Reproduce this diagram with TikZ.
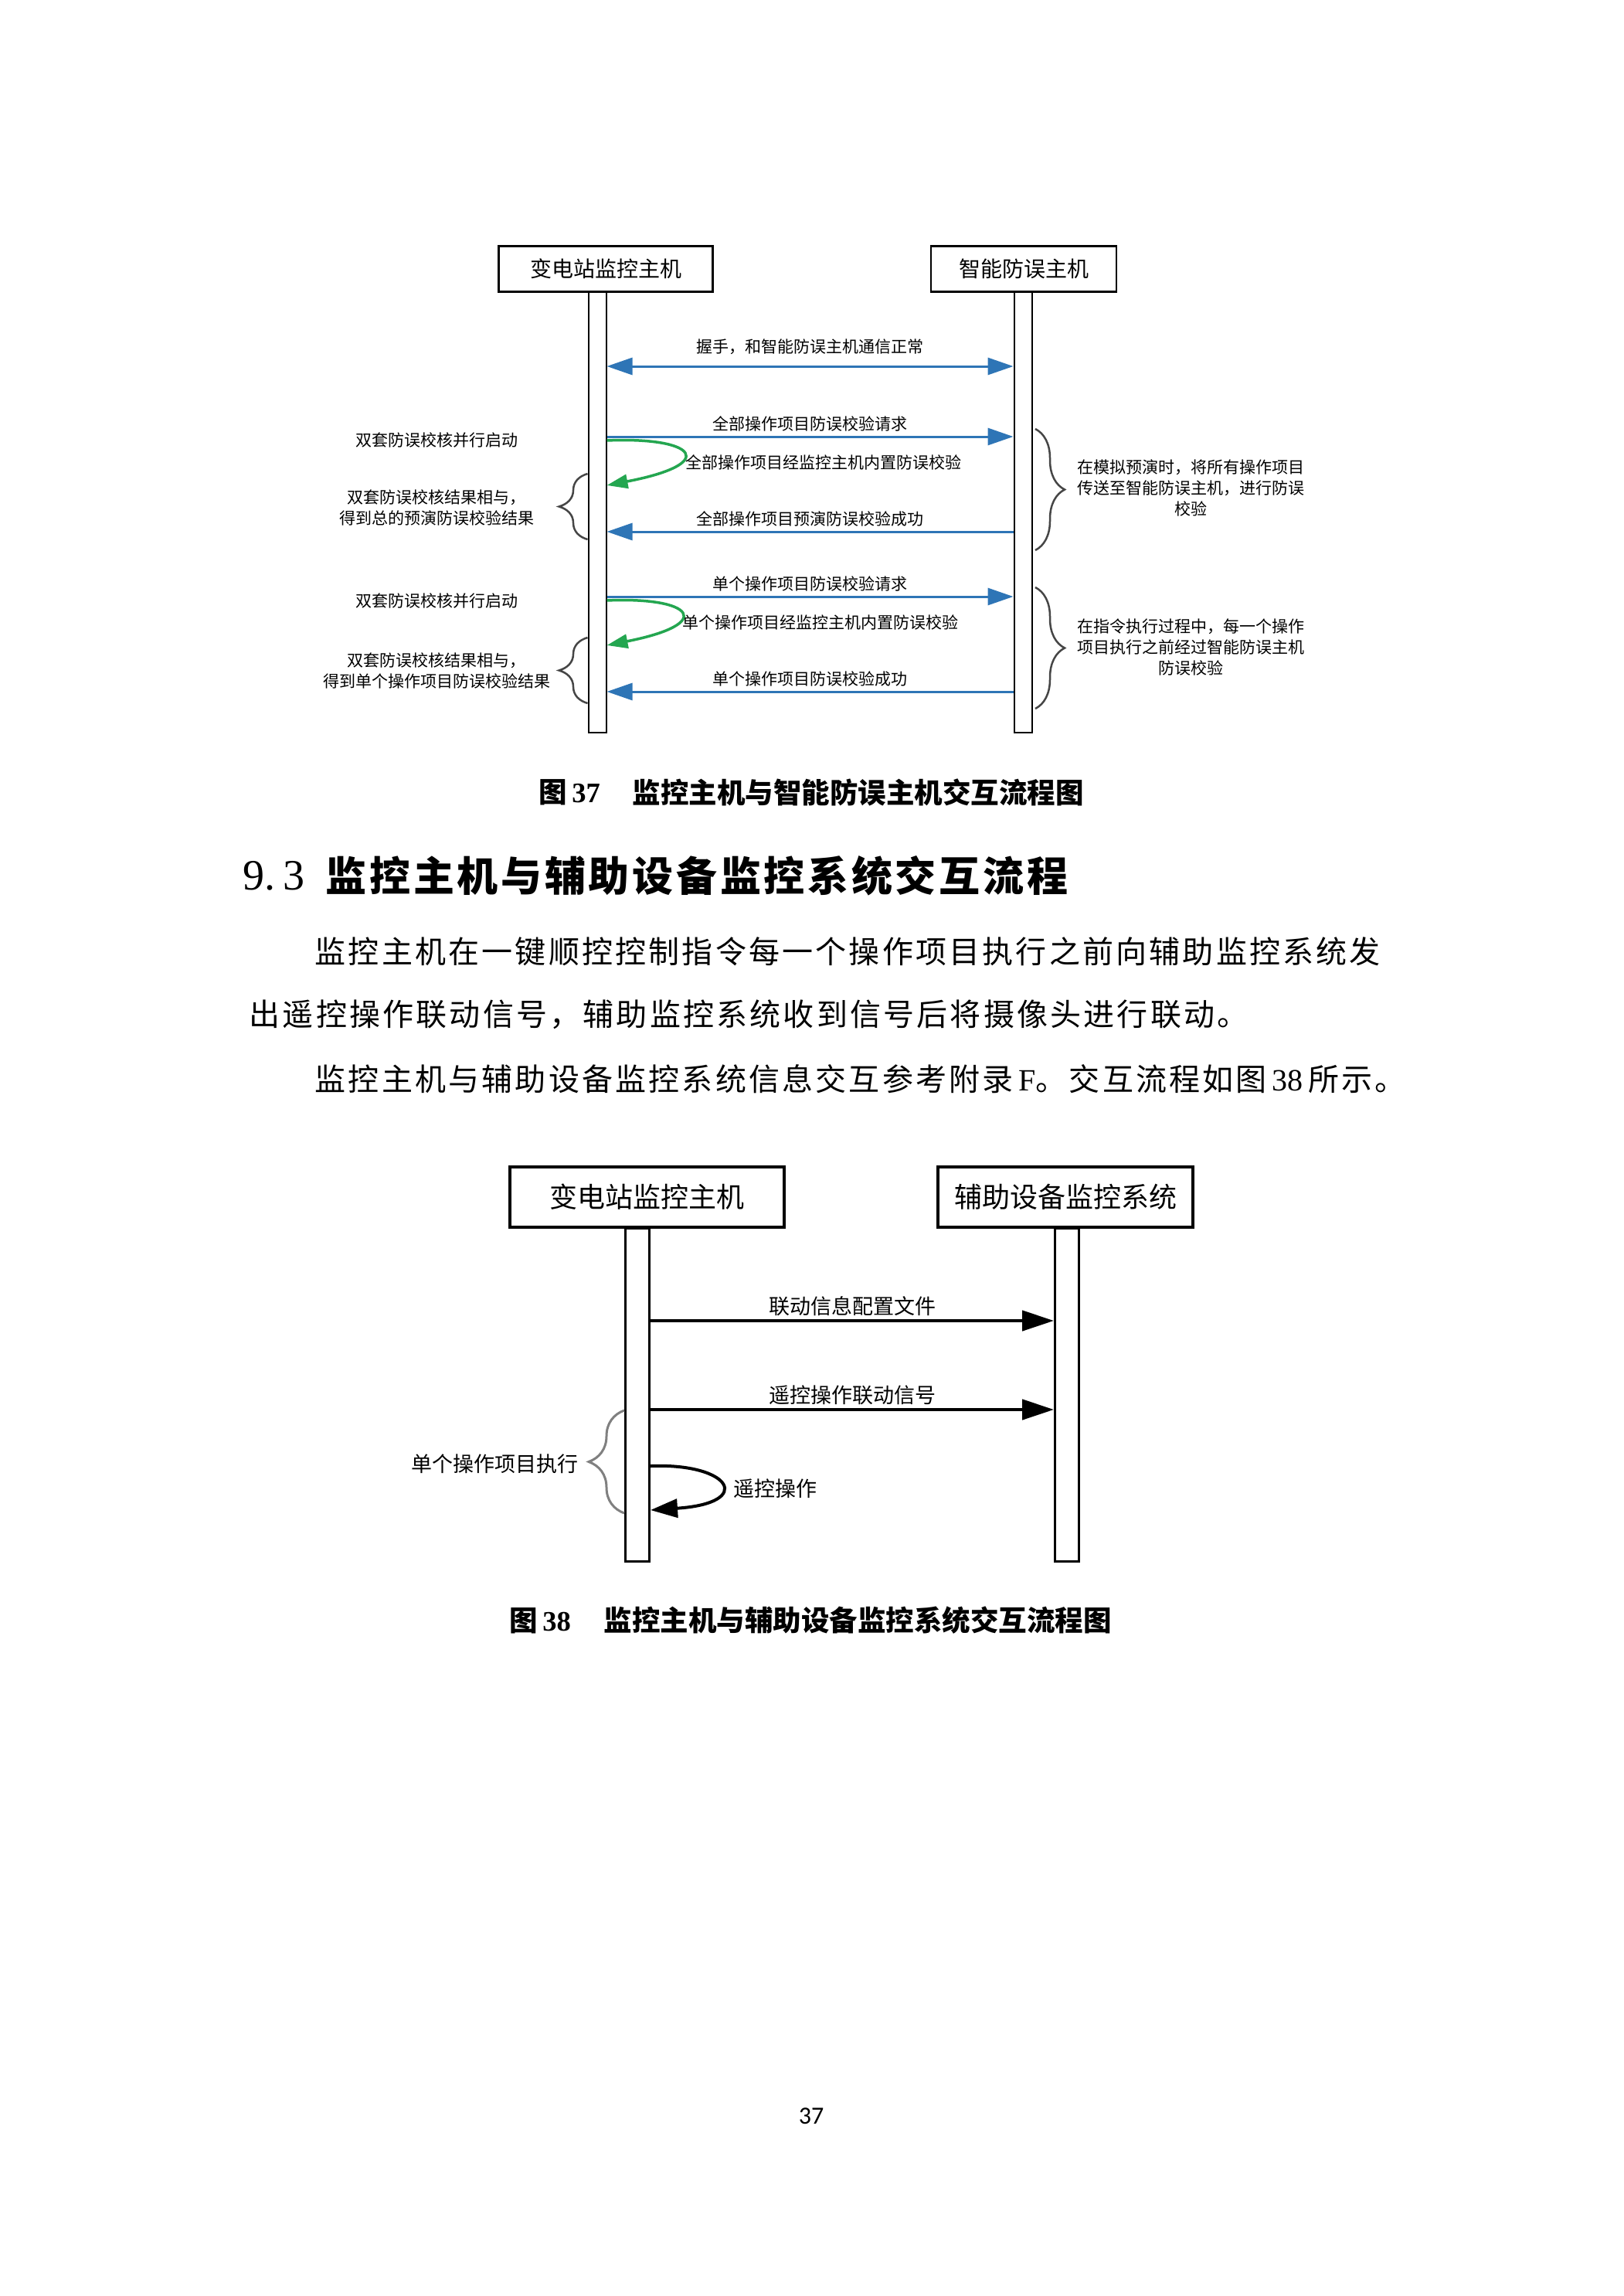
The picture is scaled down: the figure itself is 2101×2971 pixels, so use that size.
\documentclass[tikz,border=0pt]{standalone}
\usepackage{fontspec}
\setmainfont{Liberation Serif}
\newfontfamily\cjk{Noto Sans CJK SC}
\newfontfamily\capfont{Noto Sans CJK SC}
\newfontfamily\headfont[LetterSpace=7]{Noto Sans CJK SC}
\newfontfamily\bodyfont[LetterSpace=8]{Noto Sans CJK SC}
\newfontfamily\pagefont{Carlito}
\usetikzlibrary{arrows.meta,positioning,decorations.pathreplacing,calc}
\definecolor{Link}{RGB}{46,117,182}
\definecolor{Check}{RGB}{36,166,80}
\definecolor{Brace}{RGB}{70,70,70}

\begin{document}
\begin{tikzpicture}[x=0.1mm,y=-0.1mm,
  hostbox/.style={draw,line width=0.25mm,fill=white,inner sep=0,minimum height=5.9mm,font=\cjk\fontsize{2.8mm}{3mm}\selectfont},
  lifebar/.style={draw,line width=0.2mm,fill=white,inner sep=0,anchor=north,minimum width=2.3mm},
  callmsg/.style={Link,line width=0.3mm,-{Triangle[length=3.3mm,width=2.2mm]}},
  selfcheck/.style={Check,line width=0.35mm,-{Triangle[length=2.7mm,width=1.8mm]}},
  msglabel/.style={inner sep=0,text=black,font=\cjk\fontsize{2.1mm}{2.7mm}\selectfont},
  sidenote/.style={msglabel,align=center},
  sidebrace/.style={Brace,line width=0.25mm,decorate,decoration={brace,amplitude=3.7mm}},
  hostbox2/.style={draw,line width=0.4mm,fill=white,inner sep=0,minimum height=7.8mm,font=\cjk\fontsize{3.6mm}{4mm}\selectfont},
  lifebar2/.style={draw,line width=0.3mm,fill=white,inner sep=0,anchor=north,minimum width=3.1mm},
  callmsg2/.style={black,line width=0.45mm,-{Triangle[length=4.1mm,width=2.6mm]}},
  msglabel2/.style={inner sep=0,font=\cjk\fontsize{2.7mm}{3.2mm}\selectfont},
  captext/.style={inner sep=0,anchor=west,font=\capfont\bfseries\fontsize{3.65mm}{4mm}\selectfont},
  bodyline/.style={inner sep=0,anchor=west,font=\bodyfont\fontsize{4.0mm}{4.4mm}\selectfont}]
\fill[white] (0,0) rectangle (2101,2971);
\useasboundingbox (0,0) rectangle (2101,2971);

% figure 37
\node[hostbox,minimum width=27.7mm] (scada) at (784,348) {变电站监控主机};
\node[hostbox,minimum width=24mm] (wfhost) at (1325,348) {智能防误主机};
\node[lifebar,minimum height=57mm] (scadabar) at (773,377) {};
\node[lifebar,minimum height=57mm] (wfbar) at (1324,377) {};

\coordinate (m1l) at (scadabar.east |- 0,474);
\coordinate (m1r) at (wfbar.west |- 0,474);
\coordinate (m2l) at (scadabar.east |- 0,565);
\coordinate (m2r) at (wfbar.west |- 0,565);
\coordinate (c1s) at (scadabar.east |- 0,570);
\coordinate (c1e) at (scadabar.east |- 0,628);
\coordinate (m3l) at (scadabar.east |- 0,688);
\coordinate (m3r) at (wfbar.west |- 0,688);
\coordinate (m4l) at (scadabar.east |- 0,772);
\coordinate (m4r) at (wfbar.west |- 0,772);
\coordinate (c2s) at (scadabar.east |- 0,777);
\coordinate (c2e) at (scadabar.east |- 0,835);
\coordinate (m5l) at (scadabar.east |- 0,895);
\coordinate (m5r) at (wfbar.west |- 0,895);

\draw[callmsg,{Triangle[length=3.3mm,width=2.2mm]}-{Triangle[length=3.3mm,width=2.2mm]}] (m1l) -- node[msglabel,above=1.4mm] {握手，和智能防误主机通信正常} (m1r);
\draw[callmsg] (m2l) -- node[msglabel,above=0.5mm] {全部操作项目防误校验请求} (m2r);
\draw[selfcheck] (c1s) .. controls +(116,-5) and +(146,-28) .. (c1e);
\node[msglabel,anchor=west] (c1txt) at (887,598) {全部操作项目经监控主机内置防误校验};
\draw[callmsg] (m3r) -- node[msglabel,above=0.5mm] {全部操作项目预演防误校验成功} (m3l);
\draw[callmsg] (m4l) -- node[msglabel,above=0.5mm] {单个操作项目防误校验请求} (m4r);
\draw[selfcheck] (c2s) .. controls +(112,-5) and +(142,-28) .. (c2e);
\node[msglabel,anchor=west] (c2txt) at (883,805) {单个操作项目经监控主机内置防误校验};
\draw[callmsg] (m5r) -- node[msglabel,above=0.5mm] {单个操作项目防误校验成功} (m5l);

\draw[sidebrace] (scadabar.west |- 0,698) -- (scadabar.west |- 0,613);
\draw[sidebrace] (scadabar.west |- 0,910) -- (scadabar.west |- 0,825);
\draw[sidebrace,decoration={amplitude=3.8mm}] (1340,555) -- (1340,712);
\draw[sidebrace,decoration={amplitude=3.8mm}] (1340,760) -- (1340,917);

\node[sidenote] (n1) at (565,570) {双套防误校核并行启动};
\node[sidenote] (n2) at (565,657) {双套防误校核结果相与，\\得到总的预演防误校验结果};
\node[sidenote] (n3) at (565,778) {双套防误校核并行启动};
\node[sidenote] (n4) at (565,868) {双套防误校核结果相与，\\得到单个操作项目防误校验结果};
\node[sidenote] (n5) at (1541,631) {在模拟预演时，将所有操作项目\\传送至智能防误主机，进行防误\\校验};
\node[sidenote] (n6) at (1541,837) {在指令执行过程中，每一个操作\\项目执行之前经过智能防误主机\\防误校验};

\node[captext] (cap37num) at (697,1025) {图\,{\rmfamily\bfseries 37}};
\node[captext] (cap37) at (818,1025) {监控主机与智能防误主机交互流程图};

% section text
\node[inner sep=0,anchor=west,font=\fontsize{5.6mm}{6mm}\selectfont] (secnum) at (314,1133) {9.\,3};
\node[inner sep=0,anchor=west,font=\headfont\bfseries\fontsize{5.3mm}{6mm}\selectfont] (sectitle) at (421,1133) {监控主机与辅助设备监控系统交互流程};
\node[bodyline] (p1a) at (407,1231) {监控主机在一键顺控控制指令每一个操作项目执行之前向辅助监控系统发};
\node[bodyline] (p1b) at (322,1313) {出遥控操作联动信号，辅助监控系统收到信号后将摄像头进行联动。};
\node[bodyline] (p2) at (407,1396) {监控主机与辅助设备监控系统信息交互参考附录\,{\rmfamily F}。交互流程如图\,{\rmfamily 38}\,所示。};

% figure 38
\node[hostbox2,minimum width=35.5mm] (scada2) at (837,1549) {变电站监控主机};
\node[hostbox2,minimum width=33mm] (aux) at (1379,1549) {辅助设备监控系统};
\node[lifebar2,minimum height=43.1mm] (scadabar2) at (825,1588) {};
\node[lifebar2,minimum height=43.1mm] (auxbar) at (1381,1588) {};

\coordinate (a1l) at (scadabar2.east |- 0,1709);
\coordinate (a1r) at (auxbar.west |- 0,1709);
\coordinate (a2l) at (scadabar2.east |- 0,1824);
\coordinate (a2r) at (auxbar.west |- 0,1824);
\coordinate (r1s) at (scadabar2.east |- 0,1897);
\coordinate (r1e) at (scadabar2.east |- 0,1954);

\draw[callmsg2] (a1l) -- node[msglabel2,above=0.35mm] {联动信息配置文件} (a1r);
\draw[callmsg2] (a2l) -- node[msglabel2,above=0.35mm] {遥控操作联动信号} (a2r);
\draw[black,line width=0.4mm,-{Triangle[length=3.5mm,width=2.4mm]}] (r1s) .. controls +(105,-4) and +(135,-9) .. (r1e);
\node[msglabel2,anchor=west] (r1txt) at (949,1926) {遥控操作};
\draw[gray,line width=0.3mm,decorate,decoration={brace,amplitude=4.6mm}] (808,1958) -- (808,1825);
\node[msglabel2] (exec) at (640,1894) {单个操作项目执行};

\node[captext] (cap38num) at (659,2097) {图\,{\rmfamily\bfseries 38}};
\node[captext] (cap38) at (781,2097) {监控主机与辅助设备监控系统交互流程图};

\node[inner sep=0,font=\pagefont\fontsize{3.2mm}{4mm}\selectfont] (pgnum) at (1050,2738) {37};
\end{tikzpicture}
\end{document}
